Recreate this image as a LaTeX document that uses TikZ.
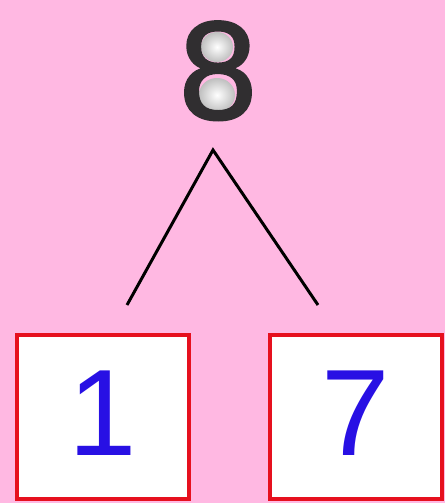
\documentclass[tikz,border=0pt]{standalone}
\usepackage{fontspec}
\setmainfont{Liberation Sans}
\newfontfamily\eightfont[FakeBold=1.6]{Liberation Sans}
\definecolor{bgpink}{RGB}{255,184,226}
\definecolor{boxred}{RGB}{230,16,30}
\definecolor{digitblue}{RGB}{40,16,228}
\definecolor{topgrey}{RGB}{48,46,48}
\begin{document}
\begin{tikzpicture}[x=1pt,y=-1pt,
  numbox/.style={draw=boxred, line width=3.5pt, fill=white, minimum width=172pt, minimum height=164pt,
    inner sep=0pt, text=digitblue, font=\fontsize{123}{123}\selectfont, text height=88pt, text depth=12pt},
  branch/.style={line width=3pt, draw=black},
  holelight/.style={inner color=white, outer color=black!25!white}]
\fill[bgpink] (0,0) rectangle (445,503);
\useasboundingbox (0,0) rectangle (445,503);
% soft highlights in the holes of the 8
\shade[holelight] (217,47) ellipse (16pt and 15pt);
\shade[holelight] (217,95) ellipse (18pt and 17pt);
\node[anchor=base, inner sep=0pt, text=topgrey, font=\eightfont\fontsize{140}{140}\selectfont] (eight) at (218,119) {8};
\coordinate (apex) at (213,150);
\coordinate (lend) at (127,305);
\coordinate (rend) at (318,305);
\draw[branch] (lend) -- (apex) -- (rend);
\node[numbox] (one) at (103,417) {1};
\node[numbox] (seven) at (356,417) {7};
\end{tikzpicture}
\end{document}
